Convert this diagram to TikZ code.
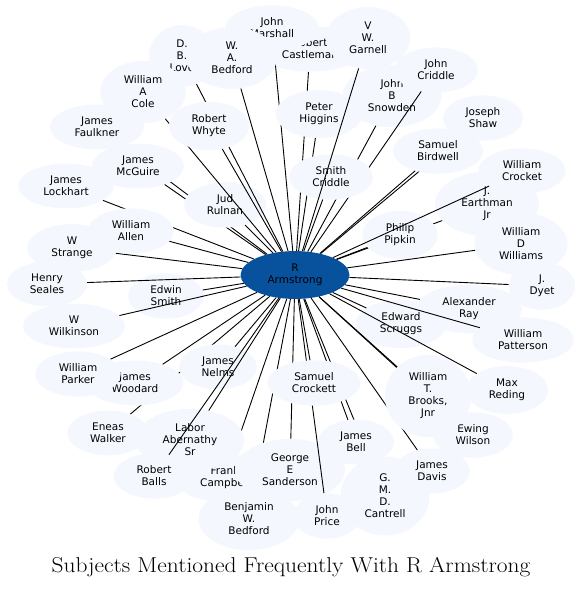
\documentclass[tikz,border=0pt]{standalone}
\usepackage{fontspec}
\newfontfamily\lblfont{DejaVu Sans}
\usetikzlibrary{shapes.geometric}
\definecolor{nodefill}{HTML}{F4F8FE}
\definecolor{hubfill}{HTML}{08519C}
\tikzset{
  subj/.style={ellipse, fill=nodefill, inner xsep=11pt, inner ysep=6pt, align=center,
    font=\lblfont\fontsize{10.5}{12}\selectfont},
  hub/.style={subj, fill=hubfill},
  link/.style={line width=0.9pt, draw=black},
  titletext/.style={font=\fontsize{21.5}{26}\selectfont, inner sep=0pt},
}
\newcommand\mkperson[3]{\node[subj] (#1) at (#2) {#3}; \draw[link] (hub) -- (#1);}
\begin{document}
\begin{tikzpicture}[x=1pt,y=-1pt]
\useasboundingbox (0,0) rectangle (583,589);
\node[hub] (hub) at (295,275) {R\\Armstrong};
\mkperson{fcam}{225,478}{Frank\\Campbell}
\mkperson{ewal}{108,433}{Eneas\\Walker}
\mkperson{jnel}{218,367}{James\\Nelms}
\mkperson{labo}{190,440}{Labor\\Abernathy\\Sr}
\mkperson{rbal}{154,476}{Robert\\Balls}
\mkperson{esmi}{166,296}{Edwin\\Smith}
\mkperson{hsea}{47,284}{Henry\\Seales}
\mkperson{wwil}{74,326}{W\\Wilkinson}
\mkperson{jwoo}{135,383}{James\\Woodard}
\mkperson{wpar}{78,374}{William\\Parker}
\mkperson{jloc}{66,186}{James\\Lockhart}
\mkperson{wstr}{72,248}{W\\Strange}
\mkperson{wall}{131,231}{William\\Allen}
\mkperson{jfau}{97,127}{James\\Faulkner}
\mkperson{jmcg}{138,166}{James\\McGuire}
\mkperson{jud}{225,205}{Jud\\Rulnan}
\mkperson{dbl}{182,56}{D.\\B.\\Love}
\mkperson{wac}{143,92}{William\\A\\Cole}
\mkperson{rwhy}{209,126}{Robert\\Whyte}
\mkperson{rcas}{310,49}{Robert\\Castleman}
\mkperson{jmar}{272,28}{John\\Marshall}
\mkperson{wab}{232,58}{W.\\A.\\Bedford}
\mkperson{jbs}{392,96}{John\\B\\Snowden}
\mkperson{jcri}{436,70}{John\\Criddle}
\mkperson{phig}{319,114}{Peter\\Higgins}
\mkperson{scri}{331,177}{Smith\\Criddle}
\mkperson{vwg}{368,38}{V\\W.\\Garnell}
\mkperson{jsha}{483,118}{Joseph\\Shaw}
\mkperson{sbir}{438,151}{Samuel\\Birdwell}
\mkperson{jear}{487,204}{J.\\Earthman\\Jr}
\mkperson{ppip}{400,235}{Philip\\Pipkin}
\mkperson{wcro}{522,171}{William\\Crocket}
\mkperson{wdw}{521,244}{William\\D\\Williams}
\mkperson{jdye}{542,286}{J.\\Dyet}
\mkperson{aray}{469,309}{Alexander\\Ray}
\mkperson{escr}{401,324}{Edward\\Scruggs}
\mkperson{mred}{507,390}{Max\\Reding}
\mkperson{wpat}{523,340}{William\\Patterson}
\mkperson{ewil}{473,435}{Ewing\\Wilson}
\mkperson{gmdc}{385,496}{G.\\M.\\D.\\Cantrell}
\mkperson{jdav}{432,471}{James\\Davis}
\mkperson{wtb}{428,396}{William\\T.\\Brooks,\\Jnr}
\mkperson{jbel}{356,442}{James\\Bell}
\mkperson{bwb}{249,519}{Benjamin\\W.\\Bedford}
\mkperson{gsan}{290,470}{George\\E\\Sanderson}
\mkperson{jpri}{327,516}{John\\Price}
\mkperson{scro}{314,383}{Samuel\\Crockett}
\node[titletext] (title) at (291,567) {\scalebox{1.09}[1]{Subjects Mentioned Frequently With R Armstrong}};
\end{tikzpicture}
\end{document}
